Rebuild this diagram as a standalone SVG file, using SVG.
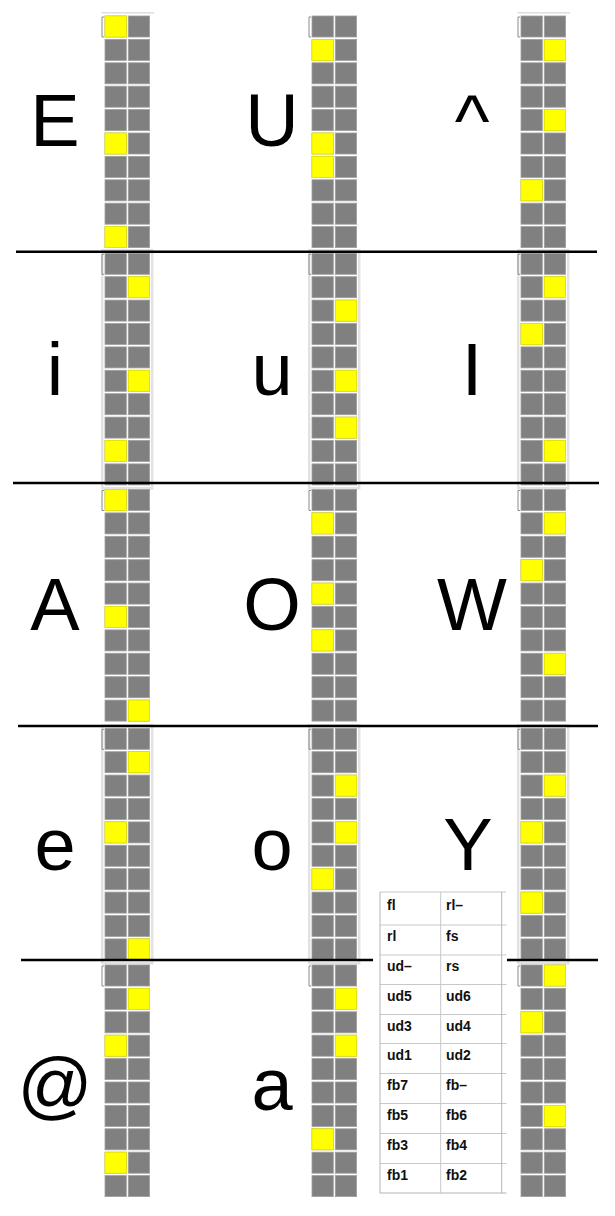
<svg xmlns="http://www.w3.org/2000/svg" xmlns:xlink="http://www.w3.org/1999/xlink" width="615" height="1216" viewBox="0 0 615 1216">
<style>
.lt{font-family:"Liberation Sans",Arial,sans-serif;font-size:74px;fill:#000;text-anchor:middle}
.tt{font-family:"Liberation Sans",Arial,sans-serif;font-size:14px;font-weight:bold;fill:#111}
.y{fill:#ffff00;stroke:#e6e600;stroke-width:0.8}
.sep{stroke:#000;stroke-width:2.5;fill:none}
.fr{fill:none;stroke:#e2e2e2;stroke-width:2.5}
.br{fill:none;stroke:#8a8a8a;stroke-width:1}
.tl{stroke:#c8c8c8;stroke-width:1;fill:none}
.tb{stroke:#b4b4b4;stroke-width:1;fill:none}
</style>
<defs>
<g id="grid" fill="#808080" stroke="#9e9e9e" stroke-width="0.8">
<rect x="0" y="0" width="21.3" height="21"/><rect x="23.3" y="0" width="21.3" height="21"/>
<rect x="0" y="23.4" width="21.3" height="21"/><rect x="23.3" y="23.4" width="21.3" height="21"/>
<rect x="0" y="46.8" width="21.3" height="21"/><rect x="23.3" y="46.8" width="21.3" height="21"/>
<rect x="0" y="70.2" width="21.3" height="21"/><rect x="23.3" y="70.2" width="21.3" height="21"/>
<rect x="0" y="93.6" width="21.3" height="21"/><rect x="23.3" y="93.6" width="21.3" height="21"/>
<rect x="0" y="117" width="21.3" height="21"/><rect x="23.3" y="117" width="21.3" height="21"/>
<rect x="0" y="140.4" width="21.3" height="21"/><rect x="23.3" y="140.4" width="21.3" height="21"/>
<rect x="0" y="163.8" width="21.3" height="21"/><rect x="23.3" y="163.8" width="21.3" height="21"/>
<rect x="0" y="187.2" width="21.3" height="21"/><rect x="23.3" y="187.2" width="21.3" height="21"/>
<rect x="0" y="210.6" width="21.3" height="21"/><rect x="23.3" y="210.6" width="21.3" height="21"/>
<path d="M-1,1 H-3 V21 H-1" fill="none" stroke="#8a8a8a" stroke-width="1"/>
</g>
<rect id="frame" x="-2.8" y="-3" width="50" height="238" fill="none" stroke="#e2e2e2" stroke-width="2.5"/>
</defs>
<rect x="0" y="0" width="615" height="1216" fill="#fff"/>

<!-- Row 1 -->
<g id="node-E">
<text class="lt" x="55" y="146">E</text>
<g transform="translate(105,16)">
<path d="M-3.3,-3.3 H49" stroke="#dedede" stroke-width="1.5"/>
<use xlink:href="#grid"/>
<rect class="y" x="0" y="0" width="21.3" height="21"/>
<rect class="y" x="0" y="117" width="21.3" height="21"/>
<rect class="y" x="0" y="210.6" width="21.3" height="21"/>
</g>
</g>
<g id="node-U">
<text class="lt" x="272" y="146">U</text>
<g transform="translate(312,16)">
<use xlink:href="#grid"/>
<rect class="y" x="0" y="23.4" width="21.3" height="21"/>
<rect class="y" x="0" y="117" width="21.3" height="21"/>
<rect class="y" x="0" y="140.4" width="21.3" height="21"/>
</g>
</g>
<g id="node-caret">
<text class="lt" x="472" y="146">^</text>
<g transform="translate(521,16)">
<path d="M-3.3,-3.3 H49" stroke="#dedede" stroke-width="1.5"/>
<use xlink:href="#grid"/>
<rect class="y" x="23.3" y="23.4" width="21.3" height="21"/>
<rect class="y" x="23.3" y="93.6" width="21.3" height="21"/>
<rect class="y" x="0" y="163.8" width="21.3" height="21"/>
</g>
</g>

<!-- Row 2 -->
<g id="node-i">
<text class="lt" x="55" y="395">i</text>
<g transform="translate(105,253.3)">
<use xlink:href="#frame"/>
<use xlink:href="#grid"/>
<rect class="y" x="23.3" y="23.4" width="21.3" height="21"/>
<rect class="y" x="23.3" y="117" width="21.3" height="21"/>
<rect class="y" x="0" y="187.2" width="21.3" height="21"/>
</g>
</g>
<g id="node-u">
<text class="lt" x="272" y="395">u</text>
<g transform="translate(312,253.3)">
<use xlink:href="#frame"/>
<use xlink:href="#grid"/>
<rect class="y" x="23.3" y="46.8" width="21.3" height="21"/>
<rect class="y" x="23.3" y="117" width="21.3" height="21"/>
<rect class="y" x="23.3" y="163.8" width="21.3" height="21"/>
</g>
</g>
<g id="node-I">
<text class="lt" x="472" y="395">I</text>
<g transform="translate(521,253.3)">
<use xlink:href="#frame"/>
<use xlink:href="#grid"/>
<rect class="y" x="23.3" y="23.4" width="21.3" height="21"/>
<rect class="y" x="0" y="70.2" width="21.3" height="21"/>
<rect class="y" x="23.3" y="187.2" width="21.3" height="21"/>
</g>
</g>

<!-- Row 3 -->
<g id="node-A">
<text class="lt" x="55" y="630">A</text>
<g transform="translate(105,489.5)">
<use xlink:href="#grid"/>
<rect class="y" x="0" y="0" width="21.3" height="21"/>
<rect class="y" x="0" y="117" width="21.3" height="21"/>
<rect class="y" x="23.3" y="210.6" width="21.3" height="21"/>
</g>
</g>
<g id="node-O">
<text class="lt" x="272" y="630">O</text>
<g transform="translate(312,489.5)">
<use xlink:href="#grid"/>
<rect class="y" x="0" y="23.4" width="21.3" height="21"/>
<rect class="y" x="0" y="93.6" width="21.3" height="21"/>
<rect class="y" x="0" y="140.4" width="21.3" height="21"/>
</g>
</g>
<g id="node-W">
<text class="lt" x="472" y="630">W</text>
<g transform="translate(521,489.5)">
<use xlink:href="#grid"/>
<rect class="y" x="23.3" y="23.4" width="21.3" height="21"/>
<rect class="y" x="0" y="70.2" width="21.3" height="21"/>
<rect class="y" x="23.3" y="163.8" width="21.3" height="21"/>
</g>
</g>

<!-- Row 4 -->
<g id="node-e">
<text class="lt" x="55" y="870">e</text>
<g transform="translate(105,728.3)">
<use xlink:href="#frame"/>
<use xlink:href="#grid"/>
<rect class="y" x="23.3" y="23.4" width="21.3" height="21"/>
<rect class="y" x="0" y="93.6" width="21.3" height="21"/>
<rect class="y" x="23.3" y="210.6" width="21.3" height="21"/>
</g>
</g>
<g id="node-o">
<text class="lt" x="272" y="870">o</text>
<g transform="translate(312,728.3)">
<use xlink:href="#frame"/>
<use xlink:href="#grid"/>
<rect class="y" x="23.3" y="46.8" width="21.3" height="21"/>
<rect class="y" x="23.3" y="93.6" width="21.3" height="21"/>
<rect class="y" x="0" y="140.4" width="21.3" height="21"/>
</g>
</g>
<g id="node-Y">
<text class="lt" x="468" y="870">Y</text>
<g transform="translate(521,728.3)">
<use xlink:href="#frame"/>
<use xlink:href="#grid"/>
<rect class="y" x="23.3" y="46.8" width="21.3" height="21"/>
<rect class="y" x="0" y="93.6" width="21.3" height="21"/>
<rect class="y" x="0" y="163.8" width="21.3" height="21"/>
</g>
</g>

<!-- Row 5 -->
<g id="node-at">
<text class="lt" x="55" y="1110">@</text>
<g transform="translate(105,965)">
<use xlink:href="#grid"/>
<rect class="y" x="23.3" y="23.4" width="21.3" height="21"/>
<rect class="y" x="0" y="70.2" width="21.3" height="21"/>
<rect class="y" x="0" y="187.2" width="21.3" height="21"/>
</g>
</g>
<g id="node-a">
<text class="lt" x="272" y="1110">a</text>
<g transform="translate(312,965)">
<use xlink:href="#grid"/>
<rect class="y" x="23.3" y="23.4" width="21.3" height="21"/>
<rect class="y" x="23.3" y="70.2" width="21.3" height="21"/>
<rect class="y" x="0" y="163.8" width="21.3" height="21"/>
</g>
</g>
<g id="node-grid15">
<g transform="translate(521,965)">
<use xlink:href="#grid"/>
<rect class="y" x="23.3" y="0" width="21.3" height="21"/>
<rect class="y" x="0" y="46.8" width="21.3" height="21"/>
<rect class="y" x="23.3" y="140.4" width="21.3" height="21"/>
</g>
</g>

<!-- Separators -->
<g id="connectors">
<line class="sep" x1="16" y1="251.8" x2="597" y2="251.8"/>
<line class="sep" x1="13" y1="483" x2="599" y2="483"/>
<line class="sep" x1="18" y1="726" x2="598" y2="726"/>
<line class="sep" x1="21" y1="960" x2="373" y2="960"/>
<line class="sep" x1="507" y1="960" x2="598" y2="960"/>
</g>

<!-- Legend table -->
<g id="legend">
<rect x="374" y="888" width="133" height="308" fill="#fff"/>
<line class="tl" x1="380" y1="892" x2="506" y2="892" stroke="#e4e4e4"/>
<line class="tl" x1="380" y1="925" x2="506.5" y2="925"/>
<line class="tl" x1="380" y1="955" x2="506.5" y2="955"/>
<line class="tl" x1="380" y1="984.5" x2="506.5" y2="984.5"/>
<line class="tl" x1="380" y1="1014.5" x2="506.5" y2="1014.5"/>
<line class="tl" x1="380" y1="1043.5" x2="506.5" y2="1043.5"/>
<line class="tl" x1="380" y1="1073.5" x2="506.5" y2="1073.5"/>
<line class="tl" x1="380" y1="1103.5" x2="506.5" y2="1103.5"/>
<line class="tl" x1="380" y1="1133.5" x2="506.5" y2="1133.5"/>
<line class="tl" x1="380" y1="1163.5" x2="506.5" y2="1163.5"/>
<line class="tb" x1="380" y1="1193" x2="506.5" y2="1193"/>
<line class="tb" x1="380" y1="892" x2="380" y2="1193"/>
<line class="tl" x1="440.7" y1="892" x2="440.7" y2="1193"/>
<line class="tb" x1="501.7" y1="892" x2="501.7" y2="1193"/>
<text class="tt" x="387" y="910">fl</text><text class="tt" x="446" y="910">rl–</text>
<text class="tt" x="387" y="941">rl</text><text class="tt" x="446" y="941">fs</text>
<text class="tt" x="387" y="971">ud–</text><text class="tt" x="446" y="971">rs</text>
<text class="tt" x="387" y="1001">ud5</text><text class="tt" x="446" y="1001">ud6</text>
<text class="tt" x="387" y="1031">ud3</text><text class="tt" x="446" y="1031">ud4</text>
<text class="tt" x="387" y="1060">ud1</text><text class="tt" x="446" y="1060">ud2</text>
<text class="tt" x="387" y="1090">fb7</text><text class="tt" x="446" y="1090">fb–</text>
<text class="tt" x="387" y="1120">fb5</text><text class="tt" x="446" y="1120">fb6</text>
<text class="tt" x="387" y="1150">fb3</text><text class="tt" x="446" y="1150">fb4</text>
<text class="tt" x="387" y="1180">fb1</text><text class="tt" x="446" y="1180">fb2</text>
</g>
</svg>
